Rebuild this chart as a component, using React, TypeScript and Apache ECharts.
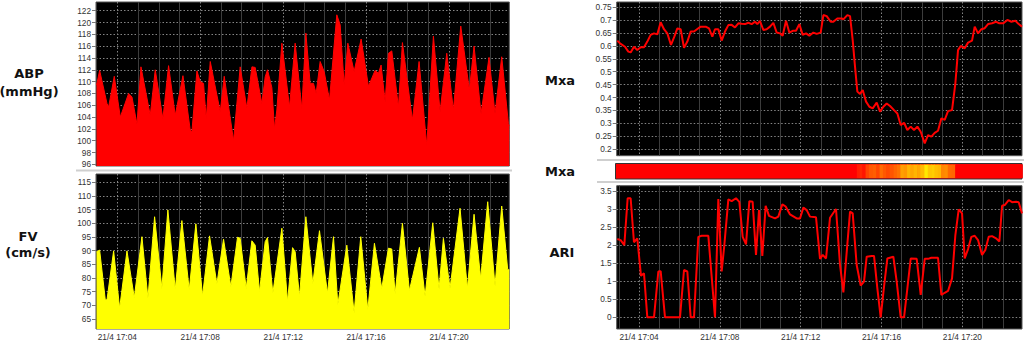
import React, { useEffect, useRef } from 'react';
import * as echarts from 'echarts';

// ---- time axis: seconds after 17:03:00 on 21/4 ----
const DATE_PREFIX = '21/4';
const minorMinuteTicks = [0, 120, 180, 240, 360, 420, 480, 600, 660, 720, 840, 900, 960, 1080, 1140];
const labelMinuteTicks = [60, 300, 540, 780, 1020];
const leftRange = [-1.6, 1194.5];
const rightRange = [-6.2, 1197];

// ---- y tick labels ----
const abpTicks = [96, 98, 100, 102, 104, 106, 108, 110, 112, 114, 116, 118, 120, 122];
const fvTicks = [65, 70, 75, 80, 85, 90, 95, 100, 105, 110, 115];
const mxaTicks = [0.2, 0.25, 0.3, 0.35, 0.4, 0.45, 0.5, 0.55, 0.6, 0.65, 0.7, 0.75];
const ariTicks = [0, 0.5, 1, 1.5, 2, 2.5, 3, 3.5];

// ---- ABP (mmHg) ----
const abpTime = [0, 8.9, 30.2, 34.9, 51.3, 68.7, 92.8, 102.5, 117, 128.5, 155.4, 169.9, 192, 208.4, 227.7, 250, 271.1, 276, 290.5, 300, 309.6, 317.4, 329, 357.9, 369.5, 396.5, 415.7, 435, 449.6, 459.1, 478.4, 488, 494.7, 507.3, 515, 521.8, 536.3, 558.4, 574.8, 594.1, 605.7, 618.2, 627.8, 635.5, 647.1, 658.7, 674.1, 695.3, 705, 716.6, 727.2, 745.4, 765.7, 786.9, 806.1, 815.8, 823.5, 835.1, 844.8, 854.4, 873.6, 885.2, 914.1, 933.4, 955.6, 974.9, 994.2, 1013.5, 1032.7, 1054, 1078.9, 1092.5, 1112.7, 1135.8, 1153.2, 1172.6, 1191.9, 1194.5];
const abpValue = [109.4, 111.9, 106.3, 105.7, 110.9, 104.0, 108.0, 107.4, 102.8, 112.5, 104.3, 112.0, 103.7, 112.7, 104.3, 111.0, 101.8, 101.5, 111.8, 110.0, 109.7, 103.7, 113.4, 104.9, 110.9, 100.0, 112.5, 105.5, 112.5, 112.4, 106.3, 110.8, 112.0, 109.0, 102.0, 105.2, 116.5, 105.7, 116.5, 105.4, 118.2, 109.7, 109.7, 108.0, 113.4, 111.7, 106.9, 121.3, 119.6, 109.4, 116.5, 111.7, 117.2, 109.2, 111.9, 111.4, 112.8, 106.6, 114.8, 115.2, 105.7, 116.6, 103.5, 113.4, 99.2, 117.7, 104.9, 114.8, 105.2, 119.4, 108.6, 116.0, 104.6, 114.1, 104.6, 114.2, 102.9, 102.5];

// ---- FV (cm/s) ----
const fvTime = [0, 8.9, 25.3, 30.2, 49.4, 66.8, 88, 109.2, 131.3, 148.7, 168, 189.1, 206.4, 227.7, 246.9, 268.2, 287.4, 306.7, 327, 348.2, 367.5, 388.7, 408, 415.7, 433.1, 449.5, 459.1, 471.6, 488, 494.7, 510.2, 536.3, 552.7, 567.2, 574.8, 587.3, 605.7, 625.9, 645.2, 668.3, 685.7, 698.2, 724.3, 745.4, 764.6, 785, 804.2, 825.4, 844.8, 854.4, 864, 885.2, 905.4, 934.3, 950.8, 973, 991.2, 1003.8, 1023, 1051.9, 1073.2, 1092.5, 1111.7, 1132, 1153.2, 1172.6, 1189.9, 1194.5];
const fvValue = [89.6, 90.2, 72.0, 72.0, 89.9, 68.9, 89.9, 72.8, 95.1, 72.6, 102.4, 76.2, 104.9, 75.8, 101.0, 75.6, 99.8, 73.4, 95.4, 77.8, 94.2, 76.8, 94.9, 94.5, 76.2, 93.6, 92.0, 75.0, 93.3, 94.8, 74.4, 98.2, 71.3, 91.1, 89.6, 73.2, 102.4, 78.0, 97.3, 74.4, 95.1, 70.2, 92.0, 67.3, 95.1, 68.3, 92.7, 76.2, 90.9, 90.6, 74.1, 100.0, 75.4, 91.2, 73.2, 100.2, 75.9, 94.5, 76.2, 105.5, 76.2, 103.3, 79.8, 107.9, 77.1, 106.3, 83.0, 83.0];

// ---- Mxa ----
const mxaTime = [-4.4, 3.6, 18.4, 28.3, 35.2, 45.1, 55, 64.9, 74.8, 84.7, 94.6, 104.5, 114.4, 124.3, 134.2, 144.1, 155, 164.9, 173.8, 183.7, 193.6, 203.5, 213.4, 223.3, 233.2, 243.1, 257.9, 267.8, 277.7, 285.6, 295.5, 305.4, 315.3, 325.2, 335.1, 345, 354.9, 364.8, 374.7, 384.6, 394.5, 404.4, 411.3, 419.2, 429.1, 439, 448.9, 458.8, 468.7, 478.6, 486.5, 496.4, 506.3, 516.2, 526.1, 536, 545.9, 555.8, 565.7, 577.6, 587.5, 599.4, 607.3, 617.2, 629.1, 637, 648.8, 661.7, 666.7, 678.5, 686.5, 694.4, 701.3, 708.2, 716.1, 724.1, 734, 743.9, 753.8, 765.6, 775.5, 785.4, 795.3, 805.2, 817.1, 827, 836.9, 846.8, 856.7, 866.6, 876.5, 886.4, 896.3, 908.2, 918, 927.9, 937.8, 947.7, 957.6, 967.5, 977.4, 989.3, 999.2, 1007.1, 1015, 1026.9, 1036.8, 1048.7, 1056.6, 1066.5, 1076.4, 1086.3, 1096.2, 1108.1, 1119.9, 1129.8, 1141.7, 1153.6, 1165.5, 1177.4, 1187.2, 1197];
const mxaValue = [0.621, 0.61, 0.597, 0.578, 0.575, 0.597, 0.584, 0.595, 0.595, 0.617, 0.643, 0.649, 0.645, 0.692, 0.665, 0.649, 0.604, 0.636, 0.668, 0.665, 0.593, 0.617, 0.656, 0.656, 0.666, 0.675, 0.675, 0.668, 0.636, 0.665, 0.665, 0.621, 0.656, 0.681, 0.682, 0.672, 0.688, 0.686, 0.685, 0.69, 0.685, 0.694, 0.685, 0.697, 0.662, 0.665, 0.675, 0.69, 0.652, 0.649, 0.64, 0.698, 0.652, 0.659, 0.659, 0.685, 0.643, 0.649, 0.64, 0.652, 0.647, 0.652, 0.72, 0.716, 0.694, 0.694, 0.707, 0.707, 0.703, 0.72, 0.716, 0.623, 0.52, 0.423, 0.414, 0.429, 0.384, 0.364, 0.358, 0.38, 0.345, 0.364, 0.377, 0.367, 0.351, 0.338, 0.293, 0.302, 0.274, 0.287, 0.274, 0.287, 0.267, 0.222, 0.254, 0.248, 0.263, 0.271, 0.319, 0.313, 0.347, 0.351, 0.455, 0.584, 0.6, 0.591, 0.613, 0.621, 0.675, 0.649, 0.665, 0.669, 0.685, 0.688, 0.694, 0.688, 0.688, 0.701, 0.694, 0.698, 0.685, 0.675];

// ---- ARI ----
const ariTime = [-4.4, 5.5, 16.4, 26.3, 35.2, 45.1, 55, 65.9, 74.8, 84.7, 104.5, 117.4, 124.3, 137.2, 181.7, 193.6, 203.5, 213.4, 223.3, 236.1, 246, 265.8, 285.6, 295.5, 305.4, 313.3, 325.2, 335.1, 347.9, 357.9, 367.8, 377.7, 387.6, 397.4, 407.3, 416.3, 426.1, 436, 445.9, 463.8, 473.6, 485.5, 495.4, 508.3, 528.1, 538, 547.9, 557.8, 567.7, 585.5, 597.4, 605.3, 615.2, 627.1, 644.9, 656.8, 666.7, 686.5, 694.4, 706.2, 718.1, 728, 735.9, 750.8, 757.7, 767.6, 777.5, 787.4, 797.3, 815.1, 825, 836.9, 846.8, 856.7, 866.6, 884.4, 896.3, 908.2, 918, 927.9, 947.7, 957.6, 967.5, 977.4, 989.3, 999.2, 1009.1, 1019, 1026.9, 1036.8, 1046.7, 1056.6, 1066.5, 1078.4, 1088.3, 1098.2, 1108.1, 1119.9, 1129.8, 1137.8, 1145.7, 1157.6, 1167.5, 1179.3, 1187.2, 1197];
const ariValue = [2.17, 2.14, 2.0, 3.3, 3.3, 2.08, 2.19, 1.15, 1.22, 0, 0, 1.27, 1.28, 0, 0, 1.31, 1.27, 0, 0, 2.23, 2.26, 2.26, 0, 3.28, 1.27, 2.0, 3.27, 3.22, 3.3, 3.2, 2.23, 2.02, 3.22, 3.2, 1.73, 2.97, 1.7, 3.09, 2.81, 2.74, 2.79, 3.13, 3.07, 2.85, 2.74, 2.74, 3.04, 2.97, 2.79, 2.77, 1.62, 1.73, 1.63, 2.76, 3.0, 1.45, 0.69, 2.93, 2.88, 1.45, 0.88, 0.99, 1.68, 1.7, 1.7, 0.8, 0, 0.85, 1.63, 1.68, 0.99, 0, 0, 0.8, 1.63, 1.62, 0.62, 1.62, 1.62, 1.65, 1.65, 0.62, 0.68, 0.73, 1.08, 2.28, 2.99, 2.88, 1.63, 1.89, 2.23, 2.26, 2.14, 1.73, 1.87, 2.23, 2.25, 2.19, 2.1, 3.09, 3.11, 3.25, 3.19, 3.2, 3.19, 2.88];

const zip = (t: number[], v: number[]) => t.map((x, i) => [x, v[i]]);
const pad2 = (n: number) => (n < 10 ? '0' + n : String(n));
const timeLabel = (v: number) => `${DATE_PREFIX} 17:${pad2(Math.round(3 + v / 60))}`;

const tickFont = { fontFamily: 'Liberation Sans, Arial, sans-serif', fontSize: 8.3, color: '#333' };
const titleFont = { fontFamily: 'DejaVu Sans, Verdana, sans-serif', fontSize: 13, fontWeight: 'bold', fill: '#111' };
const dotted = { color: '#858585', width: 1, type: [1.5, 2] };

function xAxesFor(gridIndex: number, range: number[], showLabels: boolean) {
  return [
    {
      type: 'value', gridIndex, min: range[0], max: range[1], position: 'bottom',
      axisLine: { show: false, onZero: false },
      axisTick: { show: false, customValues: minorMinuteTicks },
      axisLabel: { show: false },
      splitLine: { show: true, lineStyle: { color: '#3c3c3c', width: 1, type: 'solid' } },
    },
    {
      type: 'value', gridIndex, min: range[0], max: range[1], position: 'bottom',
      axisLine: { show: false, onZero: false },
      axisTick: { show: false, customValues: labelMinuteTicks },
      axisLabel: { show: showLabels, customValues: labelMinuteTicks, formatter: timeLabel, margin: 4, ...tickFont },
      splitLine: { show: true, lineStyle: dotted },
    },
  ];
}

function yAxisFor(gridIndex: number, min: number, max: number, ticks: number[]) {
  return {
    type: 'value', gridIndex, min, max,
    axisLine: { show: false, onZero: false },
    axisTick: { show: true, length: 4, customValues: ticks, lineStyle: { color: '#777' } },
    axisLabel: { customValues: ticks, margin: 5, formatter: (v: number) => String(v), ...tickFont },
    splitLine: { show: true, lineStyle: dotted },
  };
}

const gridBase = { show: true, backgroundColor: '#000', borderColor: '#555', borderWidth: 1, containLabel: false, outerBoundsMode: 'none' };

export default function App() {
  const ref = useRef<HTMLDivElement>(null);
  useEffect(() => {
    if (!ref.current) return;
    const chart = echarts.init(ref.current, undefined, { renderer: 'svg' });
    const stripData = mxaTime.map((t, i) => [t, i < mxaTime.length - 1 ? mxaTime[i + 1] : rightRange[1], mxaValue[i]]);
    const option: any = {
      animation: false,
      grid: [
        { ...gridBase, left: 96, top: 2, width: 413.3, height: 164 },
        { ...gridBase, left: 96, top: 174, width: 413.3, height: 155 },
        { ...gridBase, left: 616.7, top: 2, width: 405.3, height: 153.7 },
        { ...gridBase, left: 615.5, top: 163.5, width: 406.5, height: 15.5, backgroundColor: '#ff0000', borderColor: '#333' },
        { ...gridBase, left: 616.7, top: 185.7, width: 405.3, height: 143.3 },
      ],
      xAxis: [
        ...xAxesFor(0, leftRange, false),
        ...xAxesFor(1, leftRange, true),
        ...xAxesFor(2, rightRange, false),
        { type: 'value', gridIndex: 3, min: rightRange[0], max: rightRange[1], show: false },
        ...xAxesFor(4, rightRange, true),
      ],
      yAxis: [
        yAxisFor(0, 95.72, 123.47, abpTicks),
        yAxisFor(1, 61.34, 118.04, fvTicks),
        yAxisFor(2, 0.1741, 0.7707, mxaTicks),
        { type: 'value', gridIndex: 3, min: 0, max: 1, show: false },
        yAxisFor(4, -0.324, 3.647, ariTicks),
      ],
      visualMap: [
        { type: 'continuous', show: false, seriesIndex: 3, dimension: 2, min: 0.2, max: 0.45, inRange: { color: ['#ffff00', '#ff0000'] } },
      ],
      series: [
        {
          type: 'line', xAxisIndex: 0, yAxisIndex: 0, data: zip(abpTime, abpValue), symbol: 'none',
          lineStyle: { color: '#ff0000', width: 1 }, itemStyle: { color: '#ff0000' },
          areaStyle: { color: '#ff0000', opacity: 1 },
        },
        {
          type: 'line', xAxisIndex: 2, yAxisIndex: 1, data: zip(fvTime, fvValue), symbol: 'none',
          lineStyle: { color: '#ffff00', width: 1 }, itemStyle: { color: '#ffff00' },
          areaStyle: { color: '#ffff00', opacity: 1 },
        },
        {
          type: 'line', xAxisIndex: 4, yAxisIndex: 2, data: zip(mxaTime, mxaValue), symbol: 'none',
          lineStyle: { color: '#ff0000', width: 2 }, itemStyle: { color: '#ff0000' },
        },
        {
          type: 'custom', xAxisIndex: 6, yAxisIndex: 3, data: stripData,
          encode: { x: [0, 1] },
          renderItem: (params: any, api: any) => {
            const p0 = api.coord([api.value(0), 0]);
            const p1 = api.coord([api.value(1), 0]);
            const cs = params.coordSys;
            return {
              type: 'rect',
              shape: { x: p0[0], y: cs.y + 1, width: Math.max(p1[0] - p0[0] + 0.6, 0), height: cs.height - 2 },
              style: { fill: api.visual('color') },
            };
          },
          clip: true,
        },
        {
          type: 'line', xAxisIndex: 7, yAxisIndex: 4, data: zip(ariTime, ariValue), symbol: 'none',
          lineStyle: { color: '#ff0000', width: 2 }, itemStyle: { color: '#ff0000' },
        },
      ],
      graphic: [
        { type: 'line', shape: { x1: 76, y1: 170.5, x2: 512, y2: 170.5 }, style: { stroke: '#cfcfcf', lineWidth: 2 } },
        { type: 'line', shape: { x1: 597, y1: 160, x2: 1024, y2: 160 }, style: { stroke: '#cfcfcf', lineWidth: 2 } },
        { type: 'line', shape: { x1: 597, y1: 182, x2: 1024, y2: 182 }, style: { stroke: '#cfcfcf', lineWidth: 2 } },
        { type: 'text', x: 29, y: 73.5, style: { text: 'ABP', ...titleFont, align: 'center', verticalAlign: 'middle' } },
        { type: 'text', x: 29, y: 91.5, style: { text: '(mmHg)', ...titleFont, align: 'center', verticalAlign: 'middle' } },
        { type: 'text', x: 28, y: 236, style: { text: 'FV', ...titleFont, align: 'center', verticalAlign: 'middle' } },
        { type: 'text', x: 28, y: 252.5, style: { text: '(cm/s)', ...titleFont, align: 'center', verticalAlign: 'middle' } },
        { type: 'text', x: 560, y: 80, style: { text: 'Mxa', ...titleFont, align: 'center', verticalAlign: 'middle' } },
        { type: 'text', x: 560, y: 171.5, style: { text: 'Mxa', ...titleFont, align: 'center', verticalAlign: 'middle' } },
        { type: 'text', x: 562, y: 252, style: { text: 'ARI', ...titleFont, align: 'center', verticalAlign: 'middle' } },
      ],
    };
    chart.setOption(option);
    return () => chart.dispose();
  }, []);
  return <div ref={ref} style={{ position: 'absolute', left: 0, top: 0, width: 1024, height: 343, background: '#fff' }} />;
}
